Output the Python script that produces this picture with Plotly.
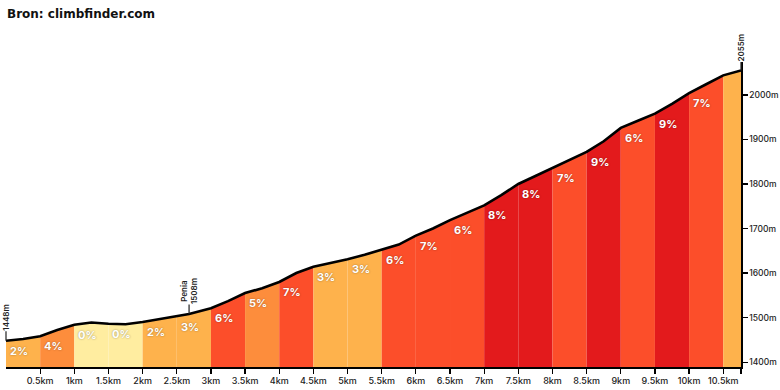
import numpy as np
import plotly.graph_objects as go

# ---- data ----
profile_km = [0, 0.25, 0.5, 0.75, 1.0, 1.25, 1.5, 1.75, 2.0, 2.25, 2.5, 2.68, 3.0, 3.25, 3.5,
              3.75, 4.0, 4.25, 4.5, 4.75, 5.0, 5.25, 5.5, 5.75, 6.0, 6.25, 6.5, 6.75, 7.0,
              7.25, 7.5, 7.75, 8.0, 8.25, 8.5, 8.75, 9.0, 9.25, 9.5, 9.75, 10.0, 10.25, 10.5, 10.76]
profile_elev = [1448, 1452, 1458, 1472, 1484, 1489, 1486, 1485, 1490, 1496, 1502, 1508, 1521, 1537, 1555,
                1566, 1580, 1600, 1614, 1622, 1631, 1641, 1652, 1664, 1684, 1700, 1719, 1736, 1752,
                1775, 1800, 1818, 1836, 1853, 1872, 1896, 1926, 1942, 1958, 1980, 2004, 2024, 2044, 2055]

seg_start = [0, 0.5, 1.0, 1.5, 2.0, 2.5, 3.0, 3.5, 4.0, 4.5, 5.0, 5.5, 6.0, 6.5, 7.0, 7.5,
             8.0, 8.5, 9.0, 9.5, 10.0, 10.5]
seg_end = seg_start[1:] + [10.76]
seg_grade = [2, 4, 0, 0, 2, 3, 6, 5, 7, 3, 3, 6, 7, 6, 8, 8, 7, 9, 6, 9, 7, 3]
seg_label = ["2%", "4%", "0%", "0%", "2%", "3%", "6%", "5%", "7%", "3%", "3%", "6%", "7%", "6%",
             "8%", "8%", "7%", "9%", "6%", "9%", "7%", ""]

marker_km = [0, 2.68, 10.76]
marker_elev = [1448, 1508, 2055]
marker_text = ["1448m", "Penia<br>1508m", "2055m"]

x_tickvals = [0.5, 1, 1.5, 2, 2.5, 3, 3.5, 4, 4.5, 5, 5.5, 6, 6.5, 7, 7.5, 8, 8.5, 9, 9.5, 10, 10.5, 10.76]
x_ticktext = ["0.5km", "1km", "1.5km", "2km", "2.5km", "3km", "3.5km", "4km", "4.5km", "5km", "5.5km",
              "6km", "6.5km", "7km", "7.5km", "8km", "8.5km", "9km", "9.5km", "10km", "10.5km", ""]
y_tickvals = [1400, 1500, 1600, 1700, 1800, 1900, 2000]
y_ticktext = ["1400m", "1500m", "1600m", "1700m", "1800m", "1900m", "2000m"]


def grade_color(g):
    if g <= 1:
        return "#ffeda0"
    if g <= 3:
        return "#feb24c"
    if g <= 5:
        return "#fd8d3c"
    if g <= 7:
        return "#fc4e2a"
    return "#e31a1c"


pk = np.array(profile_km, dtype=float)
pe = np.array(profile_elev, dtype=float)

fig = go.Figure()

for a, b, g in zip(seg_start, seg_end, seg_grade):
    inner = [k for k in profile_km if a < k < b]
    xs = [a] + inner + [b]
    ys = list(np.interp(xs, pk, pe))
    fig.add_trace(go.Scatter(x=xs, y=ys, mode="lines", line=dict(width=0.5, color=grade_color(g)),
                             fill="tozeroy", fillcolor=grade_color(g), hoverinfo="skip",
                             showlegend=False))

fig.add_trace(go.Scatter(x=profile_km, y=profile_elev, mode="lines",
                         line=dict(color="#000000", width=2.6), hoverinfo="skip", showlegend=False))

annotations = []
for a, b, lab in zip(seg_start, seg_end, seg_label):
    if not lab:
        continue
    y0 = float(np.interp(a, pk, pe))
    annotations.append(dict(x=(a + b) / 2, y=y0, xref="x", yref="y", text=lab, showarrow=False,
                            xshift=-4, yshift=-10,
                            font=dict(family="Inter, Lato, sans-serif", size=11, color="white",
                                      weight="bold", shadow="0px 0px 2px rgba(0,0,0,0.4)")))

for k, e, t in zip(marker_km, marker_elev, marker_text):
    annotations.append(dict(x=k, y=e, xref="x", yref="y", text=t, showarrow=True,
                            arrowhead=0, arrowwidth=1.2, arrowcolor="#222", ax=0, ay=-23,
                            textangle=-90, borderpad=0,
                            font=dict(family="Inter, sans-serif", size=8, color="#222", weight=600)))

fig.update_layout(
    template="none",
    width=780, height=390,
    margin=dict(l=6, r=39, t=62, b=23, autoexpand=False),
    paper_bgcolor="white", plot_bgcolor="white",
    title=dict(text="<b>Bron: climbfinder.com</b>", x=0.009, xanchor="left", y=0.964,
               yanchor="middle", xref="container", yref="container",
               font=dict(family="DejaVu Sans, Verdana, sans-serif", size=12, color="#111")),
    annotations=annotations,
    xaxis=dict(range=[0, 10.76], showgrid=False, zeroline=False, showline=True, automargin=False,
               linecolor="#000", linewidth=1.5, ticks="outside", ticklen=5, tickcolor="#000",
               tickwidth=1.2, tickvals=x_tickvals, ticktext=x_ticktext,
               tickfont=dict(family="Inter, sans-serif", size=9, color="#222", weight=500)),
    yaxis=dict(range=[1389, 2074], side="right", showgrid=False, zeroline=False, showline=True,
               automargin=False,
               linecolor="#000", linewidth=1.5, ticks="outside", ticklen=5, tickcolor="#000",
               tickwidth=1.2, tickvals=y_tickvals, ticktext=y_ticktext,
               tickfont=dict(family="Inter, sans-serif", size=8.5, color="#222", weight=500)),
)

fig.write_html("out.html", config={"displayModeBar": False, "staticPlot": True},
               post_script="document.body.style.margin='0';document.body.style.padding='0';")
